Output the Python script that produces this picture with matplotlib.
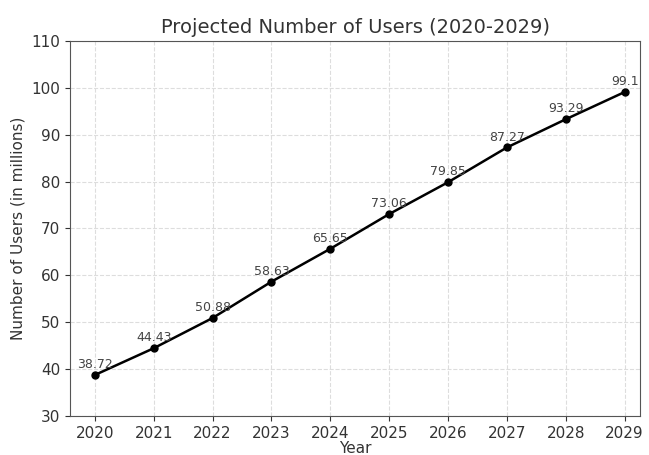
import numpy as np
import matplotlib.pyplot as plt

years = [2020, 2021, 2022, 2023, 2024, 2025, 2026, 2027, 2028, 2029]
users = [38.72, 44.43, 50.88, 58.63, 65.65, 73.06, 79.85, 87.27, 93.29, 99.1]

fig = plt.figure(figsize=(6.49, 4.55), dpi=100)
ax = fig.add_axes([0.108, 0.086, 0.878, 0.824])

ax.plot(years, users, marker='o', color='black', markersize=5, linewidth=1.8)
for x, y in zip(years, users):
    ax.annotate(f"{y:g}", (x, y), textcoords="offset points", xytext=(0, 5),
                ha='center', fontsize=9, color='#444444')

ax.set_xticks(years)
ax.set_xlim(2019.58, 2029.26)
ax.set_ylim(30, 110)
ax.set_yticks(np.arange(30, 111, 10))
ax.grid(True, linestyle='--', color='#dddddd', linewidth=0.8)
ax.set_title("Projected Number of Users (2020-2029)", fontsize=14, color='#333333')
ax.set_xlabel("Year", fontsize=11, color='#333333', labelpad=0)
ax.set_ylabel("Number of Users (in millions)", fontsize=11, color='#333333')
ax.tick_params(labelsize=11, colors='#333333')
for s in ax.spines.values():
    s.set_color('#555555')

plt.savefig('out.png')
